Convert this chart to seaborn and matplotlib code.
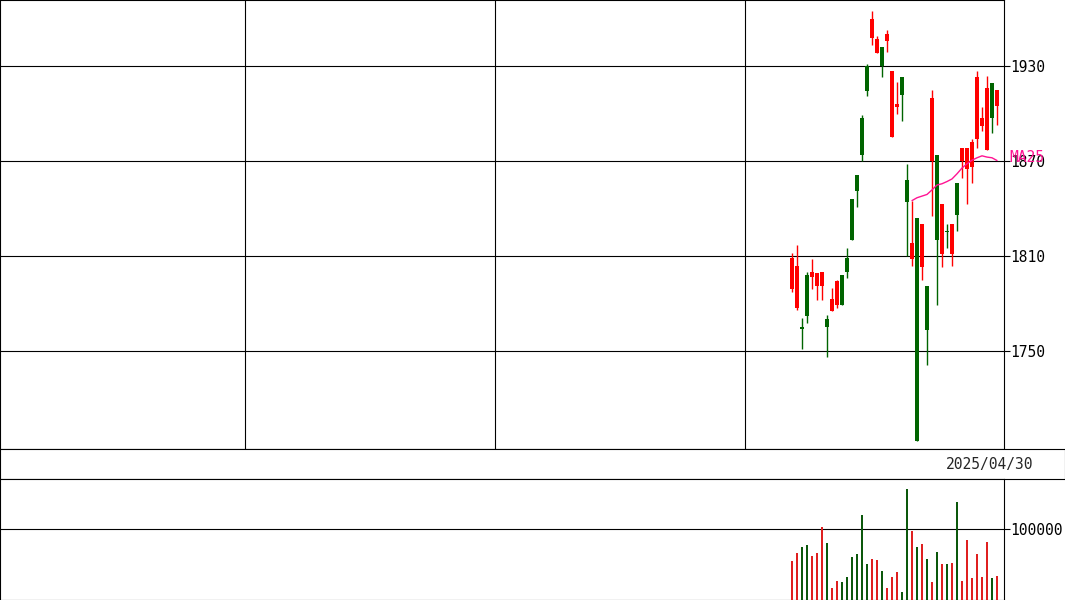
# Daily candlestick chart with MA25 and volume (last 42 sessions to 2025/04/30)
import numpy as np
import pandas as pd
import matplotlib.pyplot as plt
import seaborn as sns

# Price data
open_ = [1809, 1804, 1764, 1772, 1800, 1799, 1800, 1765, 1783, 1794,
         1779, 1800, 1820, 1851, 1874, 1914, 1960, 1947, 1930, 1950,
         1927, 1906, 1912, 1844, 1818, 1693, 1830, 1763, 1910, 1820,
         1843, 1825, 1830, 1836, 1878, 1878, 1882, 1923, 1897, 1916,
         1897, 1915]
high = [1812, 1817, 1771, 1800, 1808, 1799, 1800, 1773, 1790, 1795,
        1798, 1815, 1846, 1861, 1899, 1931, 1965, 1949, 1942, 1953,
        1927, 1920, 1923, 1868, 1845, 1834, 1830, 1791, 1915, 1874,
        1843, 1830, 1830, 1856, 1878, 1878, 1884, 1927, 1904, 1924,
        1919, 1915]
low = [1787, 1776, 1751, 1768, 1789, 1782, 1782, 1746, 1775, 1777,
       1779, 1796, 1820, 1841, 1870, 1911, 1943, 1938, 1923, 1939,
       1885, 1900, 1895, 1810, 1804, 1693, 1795, 1741, 1835, 1779,
       1803, 1815, 1804, 1826, 1859, 1843, 1856, 1878, 1889, 1877,
       1888, 1893]
close = [1789, 1777, 1765, 1798, 1797, 1791, 1791, 1770, 1775, 1779,
         1798, 1809, 1846, 1861, 1897, 1930, 1948, 1938, 1942, 1946,
         1885, 1904, 1923, 1858, 1808, 1834, 1803, 1791, 1870, 1874,
         1811, 1826, 1811, 1856, 1870, 1865, 1866, 1884, 1892, 1877,
         1919, 1905]
volume = [55400, 66600, 75100, 77900, 62400, 66600, 103200, 80700, 17300, 27200,
          25800, 32800, 61000, 65200, 120100, 51100, 58200, 56800, 41300, 17300,
          32800, 39900, 11700, 156800, 97600, 75100, 79300, 58200, 25800, 68000,
          51100, 51100, 52500, 138500, 27200, 84900, 31400, 65200, 32800, 82100,
          31400, 34200]

price_ticks = [1750, 1810, 1870, 1930]
volume_ticks = [100000]
last_date = "2025/04/30"

UP = "#006400"
DOWN = "#ff0000"
MA_COLOR = "#ff1493"

sns.set_style("white")
plt.rcParams["font.family"] = ["DejaVu Sans Mono"]
plt.rcParams["font.size"] = 10.5

df = pd.DataFrame({"open": open_, "high": high, "low": low,
                   "close": close, "volume": volume})
# the chart holds 200 daily slots, the data fills the last 42
df["pos"] = np.arange(len(df)) + 200 - len(df)
df["dir"] = np.where(df["close"] >= df["open"], "up", "down")
df["color"] = df["dir"].map({"up": UP, "down": DOWN})
df["ma25"] = df["close"].rolling(25).mean()

W, H = 1065, 600
fig = plt.figure(figsize=(W / 100, H / 100), dpi=100)
ax = fig.add_axes([0, 151 / H, 1004 / W, 449 / H])
ax_date = fig.add_axes([0, 121 / H, 1, 30 / H])
axv = fig.add_axes([0, 0, 1004 / W, 121 / H])

xlim = (-0.4, 200.4)

# Price panel
ax.vlines(df["pos"], df["low"], df["high"], colors=df["color"], lw=1.0, zorder=3)
body = (df["close"] - df["open"]).abs().clip(lower=0.7)
ax.bar(df["pos"], body, bottom=df[["open", "close"]].min(axis=1),
       width=0.96, color=df["color"], linewidth=0, zorder=4)
sns.lineplot(data=df, x="pos", y="ma25", ax=ax, color=MA_COLOR, lw=1.0, zorder=5)

ax.set_xlim(*xlim)
ax.set_ylim(1688.1, 1971.7)
ax.set_yticks(price_ticks)
ax.set_xticks([48.6, 98.6, 148.6])
ax.grid(True, color="black", lw=0.8)
ax.yaxis.tick_right()
ax.tick_params(axis="y", right=True, left=False, length=4, width=0.8, pad=0.5,
               colors="black", labelsize=10.5)
ax.tick_params(axis="x", bottom=False, labelbottom=False)
ax.set_xlabel("")
ax.set_ylabel("")
for s in ax.spines.values():
    s.set_color("black")
    s.set_linewidth(0.8)
fig.text(1009 / W, 1 - 157 / H, "MA25", color=MA_COLOR, va="center",
         ha="left", fontsize=10.5)

# Date strip
ax_date.set_xticks([])
ax_date.set_yticks([])
for s in ax_date.spines.values():
    s.set_color("black")
    s.set_linewidth(0.8)
ax_date.text(990 / W, 0.5, last_date, transform=ax_date.transAxes,
             ha="center", va="center", fontsize=10.5)

# Volume panel
sns.barplot(data=df, x="pos", y="volume", hue="dir",
            palette={"up": UP, "down": DOWN}, native_scale=True,
            width=0.45, dodge=False, errorbar=None, legend=False,
            linewidth=0, ax=axv, zorder=3)
axv.set_xlim(*xlim)
axv.set_ylim(0, 170500)
axv.set_yticks(volume_ticks)
axv.set_yticklabels([str(v) for v in volume_ticks])
axv.grid(True, axis="y", color="black", lw=0.8)
axv.yaxis.tick_right()
axv.tick_params(axis="y", right=True, left=False, length=4, width=0.8, pad=0.5,
                colors="black", labelsize=10.5)
axv.tick_params(axis="x", bottom=False, labelbottom=False)
axv.set_xlabel("")
axv.set_ylabel("")
for s in axv.spines.values():
    s.set_color("black")
    s.set_linewidth(0.8)

fig.savefig("out.png", dpi=100)
